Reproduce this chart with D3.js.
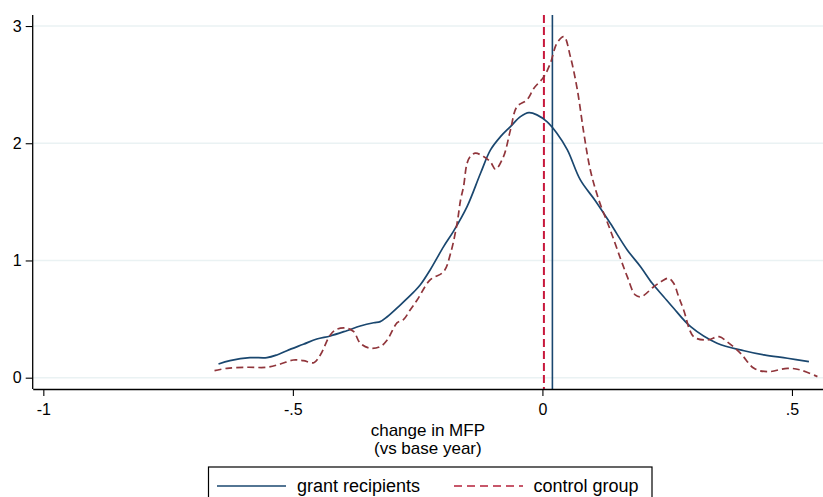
<!DOCTYPE html>
<html lang="en">
<head>
<meta charset="utf-8">
<title>change in MFP density</title>
<script src="https://cdn.jsdelivr.net/npm/d3@7"></script>
<style>
  body { margin: 0; background: #fff; }
  text { font-family: "Liberation Sans", Arial, sans-serif; fill: #000; }
</style>
</head>
<body>
<div id="chart"></div>
<script>
// x values (change in MFP) and densities
var grantX = [-0.649,-0.626,-0.586,-0.552,-0.532,-0.512,-0.479,-0.452,-0.425,-0.392,-0.365,-0.338,-0.325,-0.311,-0.285,-0.258,-0.245,-0.225,-0.198,-0.178,-0.151,-0.124,-0.104,-0.084,-0.064,-0.044,-0.027,-0.011,0.009,0.029,0.050,0.076,0.106,0.136,0.170,0.197,0.220,0.243,0.263,0.297,0.350,0.404,0.444,0.491,0.534];
var grantY = [0.117,0.145,0.171,0.171,0.194,0.230,0.285,0.330,0.356,0.401,0.441,0.469,0.478,0.520,0.620,0.730,0.790,0.919,1.118,1.250,1.459,1.744,1.943,2.056,2.142,2.227,2.261,2.242,2.184,2.085,1.943,1.687,1.510,1.317,1.090,0.945,0.805,0.691,0.592,0.435,0.294,0.230,0.194,0.166,0.137];

var controlX = [-0.657,-0.632,-0.592,-0.552,-0.525,-0.499,-0.479,-0.458,-0.445,-0.425,-0.412,-0.392,-0.378,-0.365,-0.345,-0.325,-0.311,-0.291,-0.278,-0.265,-0.251,-0.225,-0.198,-0.184,-0.171,-0.164,-0.158,-0.151,-0.144,-0.134,-0.118,-0.104,-0.094,-0.078,-0.064,-0.051,-0.031,-0.017,0.003,0.016,0.029,0.043,0.056,0.070,0.083,0.096,0.113,0.136,0.156,0.170,0.186,0.198,0.223,0.240,0.253,0.263,0.273,0.283,0.303,0.330,0.354,0.370,0.397,0.424,0.451,0.491,0.517,0.551];
var controlY = [0.060,0.080,0.089,0.089,0.117,0.151,0.145,0.128,0.194,0.364,0.413,0.422,0.392,0.294,0.251,0.265,0.322,0.469,0.498,0.578,0.663,0.834,0.904,1.061,1.317,1.516,1.630,1.829,1.890,1.915,1.886,1.840,1.778,1.886,2.114,2.312,2.370,2.469,2.568,2.683,2.853,2.910,2.739,2.455,2.085,1.772,1.516,1.260,1.021,0.862,0.706,0.691,0.776,0.825,0.848,0.805,0.691,0.578,0.350,0.322,0.350,0.307,0.208,0.080,0.051,0.080,0.066,0.009];

var xTickValues = [-1, -0.5, 0, 0.5];
var xTickLabels = ["-1", "-.5", "0", ".5"];
var yTickValues = [0, 1, 2, 3];
var yTickLabels = ["0", "1", "2", "3"];
var grantMeanLine = 0.02;
var controlMeanLine = 0.003;
var seriesNames = ["grant recipients", "control group"];

var width = 823, height = 497;
var plot = {left: 32.7, right: 823, top: 15, bottom: 389};

var svg = d3.select("#chart")
	.append("svg")
	.attr("width", width)
	.attr("height", height);

var xScale = d3.scaleLinear()
	.domain([-1.0213, 0.5622])
	.range([plot.left, plot.right]);

var yScale = d3.scaleLinear()
	.domain([-0.0965, 3.094])
	.range([plot.bottom, plot.top]);

// gridlines
svg.append("g")
	.selectAll("line")
	.data(yTickValues)
	.enter()
		.append("line")
		.attr("x1", plot.left)
		.attr("x2", plot.right)
		.attr("y1", function(d){ return yScale(d); })
		.attr("y2", function(d){ return yScale(d); })
		.attr("stroke", "#eaf2f3")
		.attr("stroke-width", 1.4);

// vertical reference lines
svg.append("line")
	.attr("x1", xScale(controlMeanLine)).attr("x2", xScale(controlMeanLine))
	.attr("y1", plot.top).attr("y2", plot.bottom)
	.attr("stroke", "#c8183c")
	.attr("stroke-width", 2)
	.attr("stroke-dasharray", "8,4");

svg.append("line")
	.attr("x1", xScale(grantMeanLine)).attr("x2", xScale(grantMeanLine))
	.attr("y1", plot.top).attr("y2", plot.bottom)
	.attr("stroke", "#1a476f")
	.attr("stroke-width", 1.6);

var line = d3.line()
	.x(function(d){ return xScale(d[0]); })
	.y(function(d){ return yScale(d[1]); })
	.curve(d3.curveCatmullRom.alpha(0.5));

svg.append("path")
	.datum(grantX.map(function(x, i){ return [x, grantY[i]]; }))
	.attr("d", line)
	.attr("fill", "none")
	.attr("stroke", "#1a476f")
	.attr("stroke-width", 1.7);

svg.append("path")
	.datum(controlX.map(function(x, i){ return [x, controlY[i]]; }))
	.attr("d", line)
	.attr("fill", "none")
	.attr("stroke", "#90353b")
	.attr("stroke-width", 1.7)
	.attr("stroke-dasharray", "7,4");

// axes
var xAxis = d3.axisBottom(xScale)
	.tickValues(xTickValues)
	.tickFormat(function(d, i){ return xTickLabels[i]; })
	.tickSize(7)
	.tickSizeOuter(0)
	.tickPadding(8);

var yAxis = d3.axisLeft(yScale)
	.tickValues(yTickValues)
	.tickFormat(function(d, i){ return yTickLabels[i]; })
	.tickSize(7)
	.tickSizeOuter(0)
	.tickPadding(4);

var gx = svg.append("g")
	.attr("transform", "translate(0," + plot.bottom + ")")
	.call(xAxis);
var gy = svg.append("g")
	.attr("transform", "translate(" + plot.left + ",0)")
	.call(yAxis);

[gx, gy].forEach(function(g){
	g.select(".domain").attr("stroke", "#000").attr("stroke-width", 1.3);
	g.selectAll(".tick line").attr("stroke", "#000").attr("stroke-width", 1.1);
	g.selectAll(".tick text").attr("font-size", 16).attr("fill", "#000")
		.style("font-family", "'Liberation Sans', Arial, sans-serif");
});
gy.select(".domain").attr("d", "M0," + plot.top + "V" + plot.bottom);

// x title
var midX = (plot.left + plot.right) / 2;
svg.append("text")
	.attr("x", midX).attr("y", 436)
	.attr("text-anchor", "middle")
	.attr("font-size", 17)
	.text("change in MFP");
svg.append("text")
	.attr("x", midX).attr("y", 454)
	.attr("text-anchor", "middle")
	.attr("font-size", 17)
	.text("(vs base year)");

// legend
var legend = svg.append("g");
legend.append("rect")
	.attr("x", 208.5).attr("y", 467)
	.attr("width", 443.5).attr("height", 40)
	.attr("fill", "#fff")
	.attr("stroke", "#000")
	.attr("stroke-width", 1.2);
legend.append("line")
	.attr("x1", 217).attr("x2", 286)
	.attr("y1", 486).attr("y2", 486)
	.attr("stroke", "#1a476f").attr("stroke-width", 1.7);
legend.append("text")
	.attr("x", 297).attr("y", 492)
	.attr("font-size", 18)
	.text(seriesNames[0]);
legend.append("line")
	.attr("x1", 454).attr("x2", 523)
	.attr("y1", 486).attr("y2", 486)
	.attr("stroke", "#b5203a").attr("stroke-width", 1.5)
	.attr("stroke-dasharray", "8,5");
legend.append("text")
	.attr("x", 533.5).attr("y", 492)
	.attr("font-size", 18)
	.text(seriesNames[1]);
</script>
</body>
</html>
